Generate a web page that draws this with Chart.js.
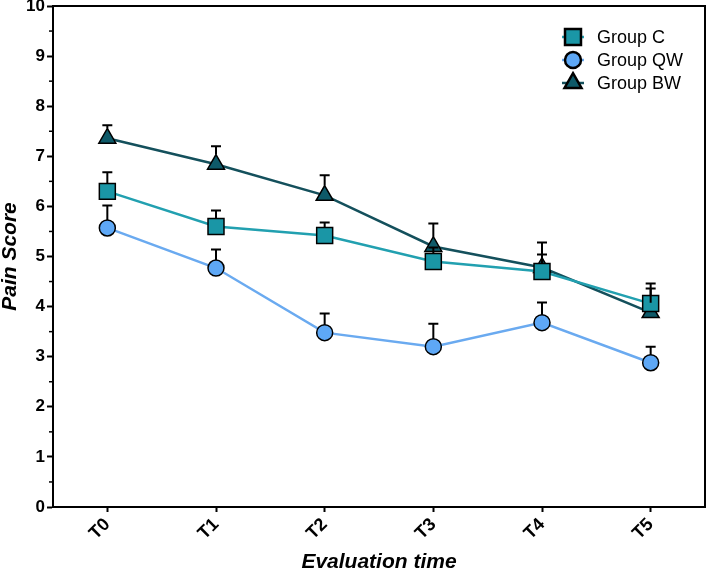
<!DOCTYPE html>
<html>
<head>
<meta charset="utf-8">
<script src="https://cdn.jsdelivr.net/npm/chart.js@4/dist/chart.umd.min.js"></script>
<style>
html,body{margin:0;padding:0;background:#fff;}
#wrap{width:709px;height:574px;position:relative;}
</style>
</head>
<body>
<div id="wrap"><canvas id="c" width="709" height="574"></canvas></div>
<script>
const categories = ['T0','T1','T2','T3','T4','T5'];
const seriesNames = ['Group C','Group QW','Group BW'];
const groupC  = [6.30, 5.60, 5.42, 4.90, 4.70, 4.06];
const groupQW = [5.57, 4.77, 3.48, 3.20, 3.68, 2.88];
const groupBW = [7.36, 6.84, 6.22, 5.20, 4.78, 3.88];
const errC  = [0.38, 0.32, 0.26, 0.28, 0.34, 0.30];
const errQW = [0.45, 0.37, 0.38, 0.46, 0.40, 0.32];
const errBW = [0.26, 0.36, 0.40, 0.46, 0.50, 0.58];
const yTicks = [0,1,2,3,4,5,6,7,8,9,10];
const yMinorTicks = [0.5,1.5,2.5,3.5,4.5,5.5,6.5,7.5,8.5,9.5];

const FONT = "'Liberation Sans', Arial, sans-serif";
const styles = [
  {fill:'#1a96a6', line:'#22a0b0', point:'rect', radius:11.3, half:8},
  {fill:'#5ea8f6', line:'#6aaaf0', point:'circle', radius:8, half:8},
  {fill:'#0e5a69', line:'#14505c', point:'triangle', radius:9.8, half:9.8}
];
const allData = [groupC, groupQW, groupBW];
const allErr = [errC, errQW, errBW];

const datasets = allData.map((d,i)=>({
  label: seriesNames[i],
  data: d,
  borderColor: styles[i].line,
  borderWidth: 2.5,
  backgroundColor: styles[i].fill,
  pointStyle: styles[i].point,
  pointRadius: styles[i].radius,
  pointHoverRadius: styles[i].radius,
  pointBackgroundColor: styles[i].fill,
  pointBorderColor: '#000',
  pointBorderWidth: 1.5,
  tension: 0,
  fill: false,
  errors: allErr[i],
  half: styles[i].half
}));

const errorBars = {
  id:'errorBars',
  afterDatasetsDraw(chart){
    const ctx = chart.ctx, y = chart.scales.y;
    ctx.save();
    ctx.strokeStyle = '#000';
    ctx.lineWidth = 2;
    chart.data.datasets.forEach((ds,i)=>{
      const meta = chart.getDatasetMeta(i);
      meta.data.forEach((pt,j)=>{
        const top = y.getPixelForValue(ds.data[j] + ds.errors[j]);
        const start = pt.y - ds.half;
        if (top < start) {
          ctx.beginPath();
          ctx.moveTo(pt.x, start); ctx.lineTo(pt.x, top);
          ctx.moveTo(pt.x-5, top); ctx.lineTo(pt.x+5, top);
          ctx.stroke();
        }
      });
    });
    ctx.restore();
  }
};

const frame = {
  id:'frame',
  afterDraw(chart){
    const ctx = chart.ctx, a = chart.chartArea, y = chart.scales.y;
    ctx.save();
    ctx.strokeStyle='#000';
    ctx.lineWidth=2;
    ctx.beginPath();
    ctx.moveTo(a.left, a.top); ctx.lineTo(a.right, a.top); ctx.lineTo(a.right, a.bottom);
    ctx.stroke();
    ctx.lineWidth=1.5;
    yMinorTicks.forEach(v=>{
      const py = y.getPixelForValue(v);
      ctx.beginPath(); ctx.moveTo(a.left-4, py); ctx.lineTo(a.left, py); ctx.stroke();
    });
    // legend
    const lx = 573, ly = [37, 60, 83];
    ctx.font = "18px " + FONT;
    ctx.textBaseline = 'middle';
    ctx.textAlign = 'left';
    styles.forEach((s,i)=>{
      ctx.strokeStyle = s.line; ctx.lineWidth = 2.5;
      ctx.beginPath(); ctx.moveTo(lx-11, ly[i]); ctx.lineTo(lx+11, ly[i]); ctx.stroke();
      ctx.fillStyle = s.fill; ctx.strokeStyle='#000';
      Chart.helpers.drawPoint(ctx, {pointStyle:s.point, radius:s.radius, rotation:0, borderWidth:1.5}, lx, ly[i]);
      ctx.fillStyle = '#000';
      ctx.fillText(seriesNames[i], 597, ly[i]+1);
    });
    ctx.restore();
  }
};

new Chart(document.getElementById('c'), {
  type:'line',
  data:{ labels: categories, datasets },
  options:{
    responsive:false,
    animation:false,
    devicePixelRatio:1,
    layout:{ autoPadding:false, padding:{ top:6, right:4, left:0, bottom:0 } },
    plugins:{ legend:{display:false}, tooltip:{enabled:false} },
    scales:{
      x:{
        type:'category',
        offset:true,
        grid:{ display:true, drawOnChartArea:false, drawTicks:true, tickLength:5, tickWidth:2, tickColor:'#000', offset:false },
        border:{ display:true, color:'#000', width:2 },
        ticks:{ color:'#000', font:{family:FONT, size:18, weight:'bold'}, minRotation:45, maxRotation:45, padding:2, autoSkip:false },
        title:{ display:true, text:'Evaluation time', color:'#000', font:{family:FONT, size:21, weight:'bold', style:'italic', lineHeight:1}, padding:{top:0,bottom:1} },
        afterFit(s){ s.height = 67; s.paddingLeft = 0; s.paddingRight = 0; }
      },
      y:{
        min:0, max:10,
        afterBuildTicks(s){ s.ticks = yTicks.map(v=>({value:v})); },
        grid:{ display:true, drawOnChartArea:false, drawTicks:true, tickLength:6, tickWidth:2, tickColor:'#000' },
        border:{ display:true, color:'#000', width:2 },
        ticks:{ color:'#000', font:{family:FONT, size:17, weight:'bold'}, padding:2 },
        title:{ display:true, text:'Pain Score', color:'#000', font:{family:FONT, size:21, weight:'bold', style:'italic', lineHeight:1}, padding:{top:0,bottom:0} },
        afterFit(s){ s.width = 53; s.paddingTop = 0; s.paddingBottom = 0; }
      }
    }
  },
  plugins:[errorBars, frame]
});
</script>
</body>
</html>
